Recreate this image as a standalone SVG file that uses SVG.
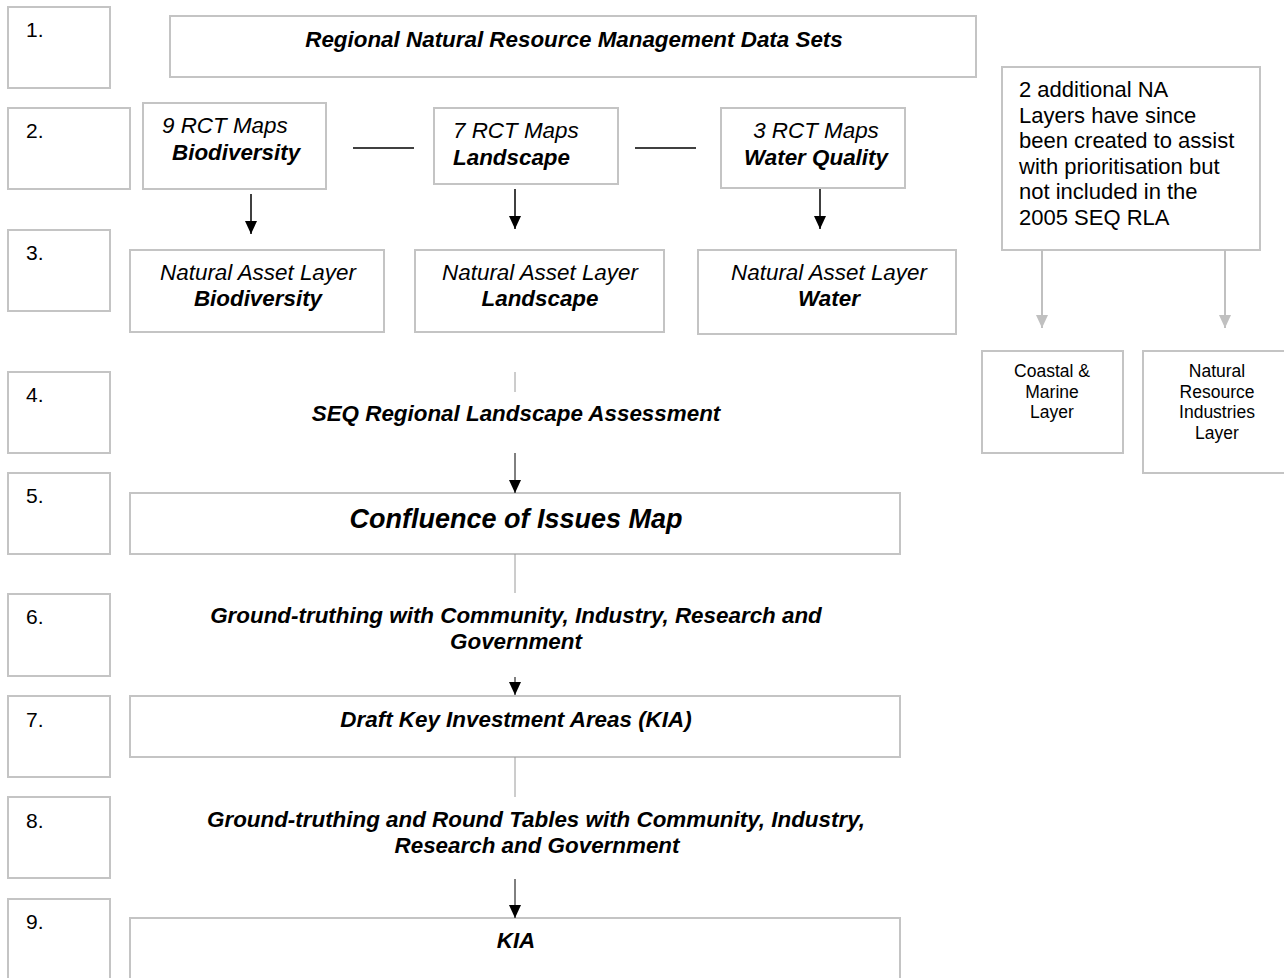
<svg xmlns="http://www.w3.org/2000/svg" width="1284" height="978" viewBox="0 0 1284 978">
<style>
  .box { fill: #ffffff; stroke: #c4c4c4; stroke-width: 2; }
  .t { font-family: "Liberation Sans", Arial, sans-serif; fill: #000000; }
  .num { font-size: 21px; }
  .it { font-size: 22.4px; font-style: italic; }
  .bi { font-size: 22.4px; font-style: italic; font-weight: bold; }
  .reg { font-size: 22px; }
  .sm { font-size: 17.5px; }
  .big { font-size: 27px; font-style: italic; font-weight: bold; }
  .blk { stroke: #000000; stroke-width: 1.5; fill: none; }
  .gline { stroke: #9a9a9a; stroke-width: 1; fill: none; }
  .garrow { stroke: #c0c0c0; stroke-width: 2; fill: none; }
</style>
<defs>
  <marker id="ah" viewBox="0 0 13 12" refX="13" refY="6" markerWidth="13" markerHeight="12" markerUnits="userSpaceOnUse" orient="auto">
    <path d="M0,0 L13,6 L0,12 z" fill="#000000"/>
  </marker>
  <marker id="ahg" viewBox="0 0 13 12" refX="13" refY="6" markerWidth="13" markerHeight="12" markerUnits="userSpaceOnUse" orient="auto">
    <path d="M0,0 L13,6 L0,12 z" fill="#c0c0c0"/>
  </marker>
</defs>
<rect width="1284" height="978" fill="#ffffff"/>

<g id="step-numbers">
  <g id="n1"><rect class="box" x="8" y="7" width="102" height="81"/><text class="t num" x="26" y="37">1.</text></g>
  <g id="n2"><rect class="box" x="8" y="108" width="122" height="81"/><text class="t num" x="26" y="138">2.</text></g>
  <g id="n3"><rect class="box" x="8" y="230" width="102" height="81"/><text class="t num" x="26" y="260">3.</text></g>
  <g id="n4"><rect class="box" x="8" y="372" width="102" height="81"/><text class="t num" x="26" y="402">4.</text></g>
  <g id="n5"><rect class="box" x="8" y="473" width="102" height="81"/><text class="t num" x="26" y="503">5.</text></g>
  <g id="n6"><rect class="box" x="8" y="594" width="102" height="82"/><text class="t num" x="26" y="624">6.</text></g>
  <g id="n7"><rect class="box" x="8" y="696" width="102" height="81"/><text class="t num" x="26" y="727">7.</text></g>
  <g id="n8"><rect class="box" x="8" y="797" width="102" height="81"/><text class="t num" x="26" y="828">8.</text></g>
  <g id="n9"><rect class="box" x="8" y="899" width="102" height="100"/><text class="t num" x="26" y="929">9.</text></g>
</g>

<g id="datasets"><rect class="box" x="170" y="16" width="806" height="61"/><text class="t bi" x="574" y="47" text-anchor="middle">Regional Natural Resource Management Data Sets</text></g>

<g id="rct-bio"><rect class="box" x="143" y="103" width="183" height="86"/>
  <text class="t it" x="162" y="133">9 RCT Maps</text>
  <text class="t bi" x="172" y="160">Biodiversity</text></g>
<g id="rct-land"><rect class="box" x="434" y="108" width="184" height="76"/>
  <text class="t it" x="453" y="138">7 RCT Maps</text>
  <text class="t bi" x="453" y="165">Landscape</text></g>
<g id="rct-water"><rect class="box" x="721" y="108" width="184" height="80"/>
  <text class="t it" x="816" y="138" text-anchor="middle">3 RCT Maps</text>
  <text class="t bi" x="816" y="165" text-anchor="middle">Water Quality</text></g>

<g id="na-bio"><rect class="box" x="130" y="250" width="254" height="82"/>
  <text class="t it" x="258" y="280" text-anchor="middle">Natural Asset Layer</text>
  <text class="t bi" x="258" y="306" text-anchor="middle">Biodiversity</text></g>
<g id="na-land"><rect class="box" x="415" y="250" width="249" height="82"/>
  <text class="t it" x="540" y="280" text-anchor="middle">Natural Asset Layer</text>
  <text class="t bi" x="540" y="306" text-anchor="middle">Landscape</text></g>
<g id="na-water"><rect class="box" x="698" y="250" width="258" height="84"/>
  <text class="t it" x="829" y="280" text-anchor="middle">Natural Asset Layer</text>
  <text class="t bi" x="829" y="306" text-anchor="middle">Water</text></g>

<g id="additional"><rect class="box" x="1002" y="67" width="258" height="183"/>
  <text class="t reg" x="1019" y="97">2 additional NA</text>
  <text class="t reg" x="1019" y="122.6">Layers have since</text>
  <text class="t reg" x="1019" y="148.2">been created to assist</text>
  <text class="t reg" x="1019" y="173.8">with prioritisation but</text>
  <text class="t reg" x="1019" y="199.4">not included in the</text>
  <text class="t reg" x="1019" y="225">2005 SEQ RLA</text></g>

<g id="coastal"><rect class="box" x="982" y="351" width="141" height="102"/>
  <text class="t sm" x="1052" y="377" text-anchor="middle">Coastal &amp;</text>
  <text class="t sm" x="1052" y="397.5" text-anchor="middle">Marine</text>
  <text class="t sm" x="1052" y="418" text-anchor="middle">Layer</text></g>
<g id="nri"><rect class="box" x="1143" y="351" width="145" height="122"/>
  <text class="t sm" x="1217" y="377" text-anchor="middle">Natural</text>
  <text class="t sm" x="1217" y="397.5" text-anchor="middle">Resource</text>
  <text class="t sm" x="1217" y="418" text-anchor="middle">Industries</text>
  <text class="t sm" x="1217" y="438.5" text-anchor="middle">Layer</text></g>

<g id="rla"><text class="t bi" x="516" y="421" text-anchor="middle">SEQ Regional Landscape Assessment</text></g>

<g id="confluence"><rect class="box" x="130" y="493" width="770" height="61"/>
  <text class="t big" x="516" y="528" text-anchor="middle">Confluence of Issues Map</text></g>

<g id="groundtruth1">
  <text class="t bi" x="516" y="623" text-anchor="middle">Ground-truthing with Community, Industry, Research and</text>
  <text class="t bi" x="516" y="649" text-anchor="middle">Government</text></g>

<g id="draft-kia"><rect class="box" x="130" y="696" width="770" height="61"/>
  <text class="t bi" x="516" y="727" text-anchor="middle">Draft Key Investment Areas (KIA)</text></g>

<g id="groundtruth2">
  <text class="t bi" x="536" y="827" text-anchor="middle">Ground-truthing and Round Tables with Community, Industry,</text>
  <text class="t bi" x="537" y="853" text-anchor="middle">Research and Government</text></g>

<g id="kia"><rect class="box" x="130" y="918" width="770" height="80"/>
  <text class="t bi" x="516" y="948" text-anchor="middle">KIA</text></g>

<g id="connectors">
  <line class="blk" x1="353" y1="148" x2="414" y2="148"/>
  <line class="blk" x1="635" y1="148" x2="696" y2="148"/>
  <line class="blk" x1="251" y1="194" x2="251" y2="234" marker-end="url(#ah)"/>
  <line class="blk" x1="515" y1="189" x2="515" y2="229" marker-end="url(#ah)"/>
  <line class="blk" x1="820" y1="189" x2="820" y2="229" marker-end="url(#ah)"/>
  <line class="garrow" x1="1042" y1="250" x2="1042" y2="328" marker-end="url(#ahg)"/>
  <line class="garrow" x1="1225" y1="250" x2="1225" y2="328" marker-end="url(#ahg)"/>
  <line class="gline" x1="515" y1="372" x2="515" y2="392"/>
  <line class="blk" x1="515" y1="453" x2="515" y2="493" marker-end="url(#ah)" style="stroke-width:1"/>
  <line class="gline" x1="515" y1="554" x2="515" y2="593"/>
  <line class="blk" x1="515" y1="677" x2="515" y2="695" marker-end="url(#ah)" style="stroke-width:1"/>
  <line class="gline" x1="515" y1="757" x2="515" y2="797"/>
  <line class="blk" x1="515" y1="879" x2="515" y2="918" marker-end="url(#ah)" style="stroke-width:1"/>
</g>
</svg>
